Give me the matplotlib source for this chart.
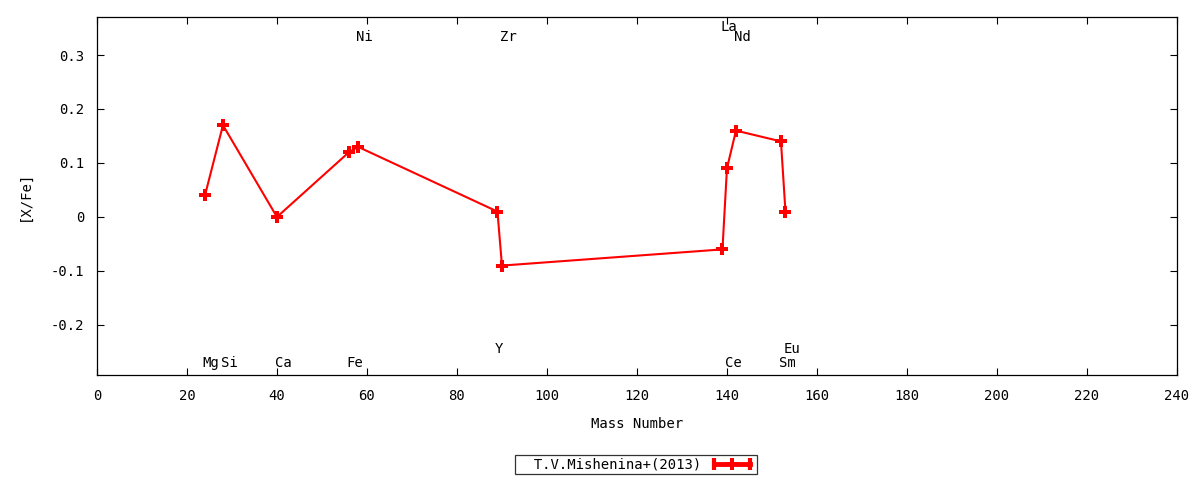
import matplotlib.pyplot as plt
from matplotlib.lines import Line2D
from matplotlib.legend_handler import HandlerLine2D, HandlerTuple

plt.rcParams['font.family'] = ['DejaVu Sans Mono']
plt.rcParams['font.size'] = 10

# abundances vs mass number
elements = ['Mg', 'Si', 'Ca', 'Fe', 'Ni', 'Y', 'Zr', 'La', 'Ce', 'Nd', 'Sm', 'Eu']
mass = [24, 28, 40, 56, 58, 89, 90, 139, 140, 142, 152, 153]
xfe = [0.04, 0.17, 0.0, 0.12, 0.13, 0.01, -0.09, -0.06, 0.09, 0.16, 0.14, 0.01]
# where each element name sits
label_y = [-0.27, -0.27, -0.27, -0.27, 0.333, -0.244, 0.333, 0.352, -0.27, 0.333, -0.27, -0.244]

fig = plt.figure(figsize=(12, 4.8), dpi=100)
ax = fig.add_axes([0.0808, 0.2188, 0.9, 0.7458])

ax.plot(mass, xfe, color='red', lw=1.5, marker='P', ms=8, mew=0)

for el, m, ly in zip(elements, mass, label_y):
    ax.text(m - 0.5, ly, el, ha='left', va='center')

ax.set_xlim(0, 240)
ax.set_ylim(-0.2926, 0.3704)
ax.set_xticks(range(0, 241, 20))
ax.set_yticks([-0.2, -0.1, 0, 0.1, 0.2, 0.3])
ax.set_yticklabels(['-0.2', '-0.1', '0', '0.1', '0.2', '0.3'])
ax.tick_params(direction='in', top=True, right=True, length=5, width=0.8)
ax.tick_params(axis='x', pad=10)
ax.tick_params(axis='y', pad=9)
for s in ax.spines.values():
    s.set_linewidth(0.9)

ax.set_xlabel('Mass Number', labelpad=10)
ax.set_ylabel('[X/Fe]', labelpad=14)

# key sample: thick bar with end caps and a point in the middle
bar = Line2D([], [], color='red', lw=3.5, marker='|', ms=9, mew=3)
pt = Line2D([], [], color='red', ls='none', marker='P', ms=9, mew=0)
leg = fig.legend(handles=[(bar, pt)], labels=['  T.V.Mishenina+(2013)'], loc='center',
                 bbox_to_anchor=(0.53, 0.032), markerfirst=False,
                 handler_map={bar: HandlerLine2D(numpoints=2),
                              pt: HandlerLine2D(numpoints=1),
                              tuple: HandlerTuple(ndivide=1, pad=0)},
                 frameon=True, fancybox=False, edgecolor='black',
                 handlelength=3.2, borderpad=0.2, handletextpad=0.6)
leg.get_frame().set_linewidth(0.9)

fig.savefig('out.png')
